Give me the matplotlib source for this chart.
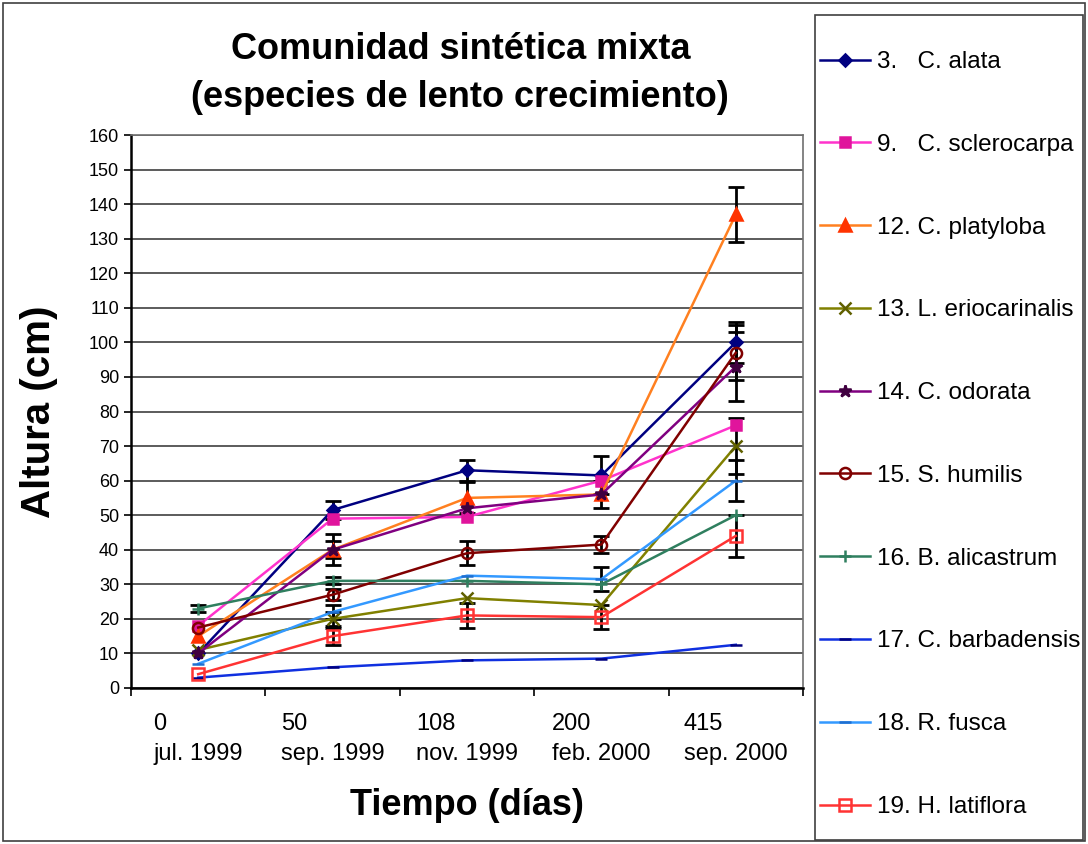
import numpy as np
import matplotlib
matplotlib.use("Agg")
import matplotlib.pyplot as plt

plt.rcParams['font.family'] = ['Liberation Sans', 'DejaVu Sans']

# --- data: altura (cm) por especie en cada muestreo ---
dias = ["0", "50", "108", "200", "415"]
fechas = ["jul. 1999", "sep. 1999", "nov. 1999", "feb. 2000", "sep. 2000"]

especies = ["3.   C. alata", "9.   C. sclerocarpa", "12. C. platyloba",
            "13. L. eriocarinalis", "14. C. odorata", "15. S. humilis",
            "16. B. alicastrum", "17. C. barbadensis", "18. R. fusca",
            "19. H. latiflora"]

alata = [10, 51.5, 63, 61.5, 100]
sclerocarpa = [18, 49, 49.5, 60, 76]
platyloba = [15, 40, 55, 56, 137]
eriocarinalis = [11, 20, 26, 24, 70]
odorata = [10, 40, 52, 56, 93]
humilis = [17.5, 27, 39, 41.5, 97]
alicastrum = [23, 31, 31, 30, 50]
barbadensis = [3, 6, 8, 8.5, 12.5]
fusca = [7, 22, 32.5, 31.5, 60]
latiflora = [4, 15, 21, 20.5, 44]

# error estandar (0 = sin barra)
err_alata = [0, 2.5, 3, 5.5, 6]
err_sclerocarpa = [0, 0, 0, 0, 0]
err_platyloba = [0, 2.5, 4.5, 0, 8]
err_eriocarinalis = [0, 2, 0, 0, 8]
err_odorata = [0, 4.5, 0, 4, 10]
err_humilis = [0, 1.5, 3.5, 2.5, 8]
err_alicastrum = [1, 1, 0, 0, 0]
err_barbadensis = [0, 0, 0, 0, 0]
err_fusca = [0, 2, 0, 3.5, 6]
err_latiflora = [0, 2.5, 3.5, 3.5, 6]

series = [alata, sclerocarpa, platyloba, eriocarinalis, odorata, humilis,
          alicastrum, barbadensis, fusca, latiflora]
errores = [err_alata, err_sclerocarpa, err_platyloba, err_eriocarinalis,
           err_odorata, err_humilis, err_alicastrum, err_barbadensis,
           err_fusca, err_latiflora]

# estilo de cada serie: color linea, marcador, color marcador, relleno, tamaño
estilos = [
    ("#000080", "D", "#000080", True, 6),
    ("#FF33CC", "s", "#E0149C", True, 7),
    ("#FF8020", "^", "#FF3300", True, 8),
    ("#808000", "x", "#606000", True, 8),
    ("#800080", "*", "#400040", True, 9),
    ("#800000", "o", "#800000", False, 8),
    ("#2F7F5F", "+", "#2F7F5F", True, 9),
    ("#1030E0", "_", "#000080", True, 8),
    ("#3399FF", "_", "#1F6FD0", True, 8),
    ("#FF3333", "s", "#FF3333", False, 8),
]

fig = plt.figure(figsize=(10.88, 8.44), dpi=100)
ax = fig.add_axes([131 / 1088, 1 - 688 / 844, 672 / 1088, 553 / 844])

x = np.arange(len(dias))

for vals, err in zip(series, errores):
    err = np.array(err, dtype=float)
    idx = err > 0
    if idx.any():
        ax.errorbar(x[idx], np.array(vals)[idx], yerr=err[idx], fmt='none',
                    ecolor='black', elinewidth=2, capsize=6, capthick=2,
                    zorder=3)

for vals, nombre, (lc, mk, mc, filled, ms) in zip(series, especies, estilos):
    ax.plot(x, vals, color=lc, lw=1.8, marker=mk, markersize=ms,
            markeredgecolor=mc, markerfacecolor=mc if filled else 'none',
            markeredgewidth=1.8, label=nombre, zorder=4)

ax.set_xlim(-0.5, 4.5)
ax.set_ylim(0, 160)
ax.set_yticks(np.arange(0, 161, 10))
ax.yaxis.grid(True, color='#404040', lw=1.2)
ax.set_axisbelow(True)
ax.tick_params(axis='y', labelsize=13, length=5, width=1.2, direction='out')

ax.set_xticks(x)
ax.set_xticklabels([d + "\n" + f for d, f in zip(dias, fechas)],
                   fontsize=17, multialignment='left', linespacing=1.45)
ax.tick_params(axis='x', length=0, pad=18)
ax.set_xticks(np.arange(-0.5, 5, 1), minor=True)
ax.tick_params(axis='x', which='minor', length=6, width=1.2, direction='out')

for s in ['left', 'bottom']:
    ax.spines[s].set_linewidth(1.8)
    ax.spines[s].set_color('black')
for s in ['top', 'right']:
    ax.spines[s].set_color('#707070')
    ax.spines[s].set_linewidth(1.2)

ax.set_title("Comunidad sintética mixta\n(especies de lento crecimiento)",
             fontsize=26, fontweight='bold', pad=20, linespacing=1.5,
             x=0.49)
ax.set_ylabel("Altura (cm)", fontsize=29, fontweight='bold', labelpad=22)
ax.set_xlabel("Tiempo (días)", fontsize=26, fontweight='bold', labelpad=17)

# leyenda sin marco; el marco se dibuja aparte
leg = fig.legend(loc='upper left', bbox_to_anchor=(820 / 1088, 1 - 51 / 844),
                 fontsize=17.5, frameon=False, handlelength=2.05,
                 handletextpad=0.3, labelspacing=2.5, borderpad=0,
                 borderaxespad=0)

fig.patches.append(plt.Rectangle((815 / 1088, 4 / 844), 268 / 1088, 825 / 844,
                                 transform=fig.transFigure, fill=False,
                                 edgecolor='#404040', lw=1.2))
# marco exterior del grafico
fig.patches.append(plt.Rectangle((3 / 1088, 3 / 844), 1082 / 1088, 838 / 844,
                                 transform=fig.transFigure, fill=False,
                                 edgecolor='#404040', lw=1.2))

fig.savefig("out.png", dpi=100)
